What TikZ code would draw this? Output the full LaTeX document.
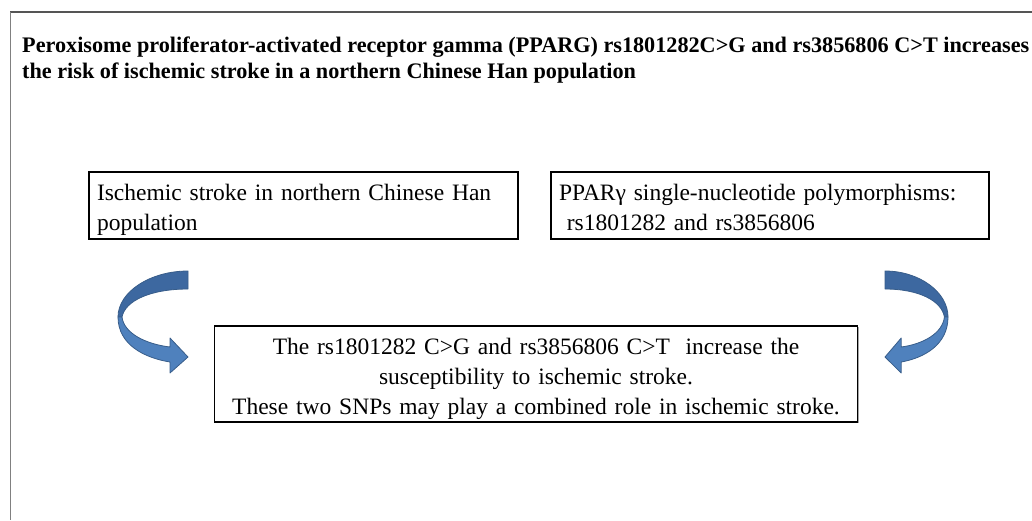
\documentclass[tikz,border=0pt]{standalone}
\usepackage{fontspec}
\setmainfont{Liberation Serif}
\usepackage{tikz}
\usetikzlibrary{shadows}

\definecolor{arrowdark}{RGB}{61,104,160}
\definecolor{arrowlight}{RGB}{79,129,189}
\definecolor{arrowline}{RGB}{56,93,138}
\definecolor{framegray}{RGB}{85,85,85}

\tikzset{
  infobox/.style={draw=black, line width=1.2pt, fill=white, inner sep=0pt,
    drop shadow={shadow xshift=1.2pt, shadow yshift=-1.2pt, fill=gray!70, opacity=1},
    font=\fontsize{23.5}{29.5}\selectfont},
  bandback/.style={fill=arrowdark, draw=arrowline, line width=0.8pt, line join=round},
  bandfront/.style={fill=arrowlight, draw=arrowline, line width=0.8pt, line join=round}
}

% curved arrow, tail top at (0,0), bends left, head points right
\newcommand{\bentarrow}{%
  \draw[bandback] (0,0) .. controls (-38,0) and (-70,21) .. (-70,46)
    -- (-66,46) .. controls (-63,30) and (-38,18) .. (0,18) -- cycle;
  \draw[bandfront] (-70,46) .. controls (-70,74) and (-43,87) .. (-18,91)
    -- (-18,102) -- (0,86) -- (-18,67) -- (-18,76)
    .. controls (-43,73) and (-64,62) .. (-66,46) -- cycle;
}

\begin{document}
\begin{tikzpicture}[x=1pt,y=-1pt]
\useasboundingbox (0,0) rectangle (1032,520);

% frame
\draw[framegray, line width=2.2pt] (10,12) -- (1032,12);
\draw[gray, line width=1pt] (10,12) -- (10,520);

% title
\node[anchor=north west, inner sep=0pt, align=left,
  font=\fontsize{22.2}{26}\selectfont\bfseries] (title) at (22,37)
  {Peroxisome proliferator-activated receptor gamma (PPARG) rs1801282C>G and rs3856806 C>T increases\\
   the risk of ischemic stroke in a northern Chinese Han population};

% boxes
\node[infobox, minimum width=429pt, minimum height=67pt, text width=413pt, align=left,
  text height=25pt, text depth=35pt]
  (stroke) at (303.5,205.5)
  {Ischemic stroke in northern Chinese Han\\population};
\node[infobox, minimum width=438pt, minimum height=67pt, text width=422pt, align=left,
  text height=25pt, text depth=35pt]
  (snps) at (770,205.5)
  {PPARγ single-nucleotide polymorphisms:\\\ rs1801282 and rs3856806};
\node[infobox, minimum width=643pt, minimum height=96pt, text width=630pt, align=center,
  font=\fontsize{23.5}{30}\selectfont, text height=26pt, text depth=65pt]
  (result) at (536,374)
  {The rs1801282 C>G and rs3856806 C>T\ \ increase the\\
   susceptibility to ischemic stroke.\\
   These two SNPs may play a combined role in ischemic stroke.};

% arrows
\begin{scope}[shift={(188,271)}]
\bentarrow
\end{scope}
\begin{scope}[shift={(885,271)}, xscale=-0.9]
\bentarrow
\end{scope}
\end{tikzpicture}
\end{document}
